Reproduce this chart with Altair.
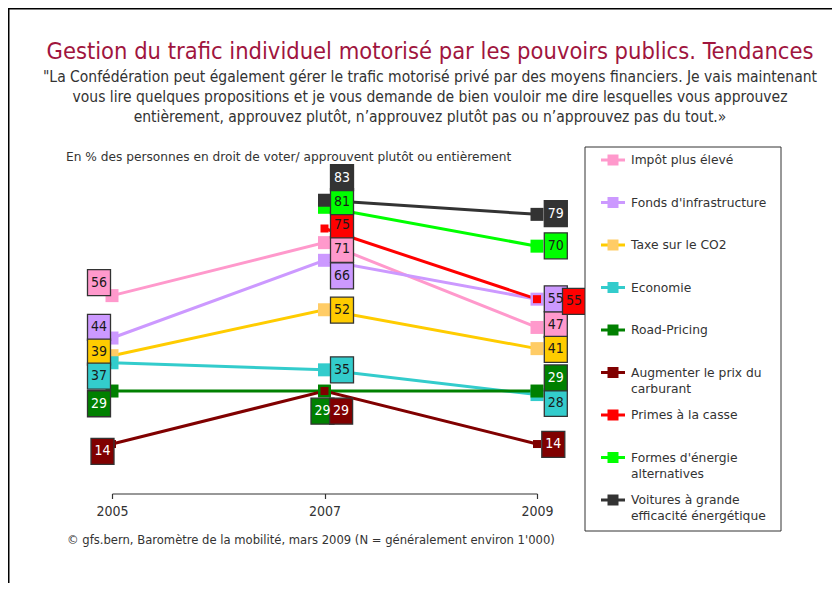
import altair as alt
import pandas as pd

# ---------------- data ----------------
years = [2005, 2007, 2009]
series = [
    "Impôt plus élevé",
    "Fonds d'infrastructure",
    "Taxe sur le CO2",
    "Economie",
    "Road-Pricing",
    "Augmenter le prix du carburant",
    "Primes à la casse",
    "Formes d'énergie alternatives",
    "Voitures à grande efficacité énergétique",
]
legend_labels = [
    "Impôt plus élevé",
    "Fonds d'infrastructure",
    "Taxe sur le CO2",
    "Economie",
    "Road-Pricing",
    "Augmenter le prix du\ncarburant",
    "Primes à la casse",
    "Formes d'énergie\nalternatives",
    "Voitures à grande\nefficacité énergétique",
]
impot = [56, 71, 47]
fonds = [44, 66, 55]
taxe = [39, 52, 41]
economie = [37, 35, 28]
road_pricing = [29, 29, 29]
augmenter = [14, 29, 14]
primes = [None, 75, 55]
formes = [None, 81, 70]
voitures = [None, 83, 79]
values = [impot, fonds, taxe, economie, road_pricing, augmenter, primes, formes, voitures]

# ---------------- style ----------------
line_colors = ["#FF99CC", "#CC99FF", "#FFCC00", "#33CCCC", "#008000",
               "#800000", "#FF0000", "#00FF00", "#333333"]
marker_colors = ["#FF99CC", "#CC99FF", "#FFCC66", "#33CCCC", "#008000",
                 "#800000", "#FF0000", "#00FF00", "#333333"]
small_marker_series = ["Augmenter le prix du carburant", "Primes à la casse"]
text_colors = ["#1a1a1a", "#1a1a1a", "#1a1a1a", "#1a1a1a", "#FFFFFF",
               "#FFFFFF", "#1a1a1a", "#1a1a1a", "#FFFFFF"]
# label nudges (value units, vertical) to avoid overlaps
label_dy = [
    [3.7, -1.9, 0.8],
    [3.0, -4.4, 0.1],
    [1.0, -0.1, -0.2],
    [-3.8, 0.0, -2.5],
    [-3.6, -5.7, 3.7],
    [-2.1, -5.7, -0.1],
    [0, 1.0, -0.6],
    [0, 1.6, 0.1],
    [0, 6.4, 0.2],
]
# horizontal label nudges (pixels)
label_dx_default = [-13, 17.5, 18.8]
label_dx_override = {(4, 1): -2, (5, 1): 16.6, (6, 2): 37, (5, 2): 16.3, (5, 0): -9.5}

W, H = 425, 318
Y_MAX = 90
px_per_year = W / (years[-1] - years[0])

SANS_T = "DejaVu Sans Condensed, Liberation Sans, sans-serif"
SANS_V = "DejaVu Sans, Verdana, sans-serif"

rows = []
for i, name in enumerate(series):
    for j, yr in enumerate(years):
        v = values[i][j]
        if v is None:
            continue
        dx = label_dx_override.get((i, j), label_dx_default[j])
        rows.append({
            "series": name,
            "year": yr,
            "value": v,
            "lx": yr + dx / px_per_year,
            "ly": v + label_dy[i][j],
            "label": str(v),
            "small": name in small_marker_series,
        })
df = pd.DataFrame(rows)

xscale = alt.Scale(domain=[years[0], years[-1]], nice=False, zero=False)
yscale = alt.Scale(domain=[0, Y_MAX], nice=False, zero=True)
xaxis = alt.Axis(values=years, format="d", grid=False, title=None, labelFlush=False,
                 domainColor="#333333", tickColor="#333333", tickSize=5,
                 labelFontSize=14, labelPadding=6, labelColor="#333333",
                 labelFont=SANS_T, domainWidth=1.2, tickWidth=1.2)


def X(field):
    return alt.X(f"{field}:Q", scale=xscale, axis=xaxis, title=None)


def Y(field):
    return alt.Y(f"{field}:Q", scale=yscale, axis=None)


lines = alt.Chart(df).mark_line(strokeWidth=3).encode(
    x=X("year"),
    y=Y("value"),
    color=alt.Color("series:N", scale=alt.Scale(domain=series, range=line_colors), legend=None),
    detail="series:N",
    order="year:Q",
)

marker_fill = alt.Fill("series:N", scale=alt.Scale(domain=series, range=marker_colors), legend=None)
markers_big = alt.Chart(df).transform_filter("!datum.small").mark_point(
    shape="square", filled=True, opacity=1, size=169).encode(
    x=X("year"), y=Y("value"), fill=marker_fill)
markers_small = alt.Chart(df).transform_filter("datum.small").mark_point(
    shape="square", filled=True, opacity=1, size=64).encode(
    x=X("year"), y=Y("value"), fill=marker_fill)

BOX = "M-0.885,-1H0.885V1H-0.885Z"
boxes = alt.Chart(df).mark_point(shape=BOX, size=676, filled=True, opacity=1,
                                 stroke="#333333", strokeWidth=1.3).encode(
    x=X("lx"),
    y=Y("ly"),
    fill=alt.Fill("series:N", scale=alt.Scale(domain=series, range=line_colors), legend=None),
)

label_text = alt.Chart(df).mark_text(font=SANS_T, fontSize=14, baseline="middle", align="center").encode(
    x=X("lx"),
    y=Y("ly"),
    text="label:N",
    color=alt.Color("series:N", scale=alt.Scale(domain=series, range=text_colors), legend=None),
)

# ---------------- legend (drawn manually) ----------------
leg_top = -15.5
leg_step = 42.5
leg = pd.DataFrame({
    "series": series,
    "label": legend_labels,
    "ly": [leg_top + k * leg_step for k in range(len(series))],
})
leg_box = alt.Chart(pd.DataFrame({"a": [0]})).mark_rect(fill="white", stroke="#333333", strokeWidth=1).encode(
    x=alt.value(473), x2=alt.value(669), y=alt.value(-28.5), y2=alt.value(355.5))
leg_line = alt.Chart(leg).mark_rule(strokeWidth=3).encode(
    x=alt.value(489), x2=alt.value(513),
    y=alt.Y("ly:Q", scale=None),
    color=alt.Color("series:N", scale=alt.Scale(domain=series, range=line_colors), legend=None),
)
leg_sq = alt.Chart(leg).mark_point(shape="square", filled=True, opacity=1, size=121).encode(
    x=alt.value(501),
    y=alt.Y("ly:Q", scale=None),
    fill=alt.Fill("series:N", scale=alt.Scale(domain=series, range=marker_colors), legend=None),
)
leg_txt = alt.Chart(leg).mark_text(font=SANS_V, fontSize=12.3, align="left", baseline="middle",
                                   lineBreak="\n", lineHeight=16, color="#333333").encode(
    x=alt.value(519),
    y=alt.Y("ly:Q", scale=None),
    text="label:N",
)

# ---------------- texts ----------------
dummy = pd.DataFrame({"a": [0]})
title = alt.Chart(dummy).mark_text(
    text="Gestion du trafic individuel motorisé par les pouvoirs publics. Tendances",
    font=SANS_T, fontSize=23.5, color="#A0153E", align="center", baseline="middle",
).encode(x=alt.value(318), y=alt.value(-123.5))

sub_lines = [
    "\"La Confédération peut également gérer le trafic motorisé privé par des moyens financiers. Je vais maintenant",
    "vous lire quelques propositions et je vous demande de bien vouloir me dire lesquelles vous approuvez",
    "entièrement, approuvez plutôt, n’approuvez plutôt pas ou n’approuvez pas du tout.»",
]
subs = [
    alt.Chart(dummy).mark_text(text=t, font=SANS_T, fontSize=15.5, color="#333333",
                               align="center", baseline="middle").encode(
        x=alt.value(318), y=alt.value(-98.5 + 20 * k))
    for k, t in enumerate(sub_lines)
]

note = alt.Chart(dummy).mark_text(
    text="En % des personnes en droit de voter/ approuvent plutôt ou entièrement",
    font=SANS_V, fontSize=12.2, color="#333333", align="left", baseline="middle",
).encode(x=alt.value(-46), y=alt.value(-18.5))

source = alt.Chart(dummy).mark_text(
    text="© gfs.bern, Baromètre de la mobilité, mars 2009 (N = généralement environ 1'000)",
    font=SANS_T, fontSize=12.9, color="#333333", align="left", baseline="middle",
).encode(x=alt.value(-45), y=alt.value(364.5))

border_top = alt.Chart(dummy).mark_rule(color="black", strokeWidth=2).encode(
    x=alt.value(-104), x2=alt.value(720), y=alt.value(-167))
border_left = alt.Chart(dummy).mark_rule(color="black", strokeWidth=2).encode(
    x=alt.value(-103.5), y=alt.value(-168), y2=alt.value(407.5))

chart = alt.layer(
    lines, markers_big, markers_small, boxes, label_text,
    border_top, border_left, title, *subs, note, source,
    leg_box, leg_line, leg_sq, leg_txt,
).resolve_scale(
    color="independent", fill="independent"
).properties(
    width=W, height=H,
    autosize=alt.AutoSizeParams(type="none"),
    padding={"left": 104, "top": 167.5, "right": 295, "bottom": 89.5},
    background="white",
).configure_view(stroke=None)

chart.save("out.html", embed_options={"renderer": "svg", "actions": False})
